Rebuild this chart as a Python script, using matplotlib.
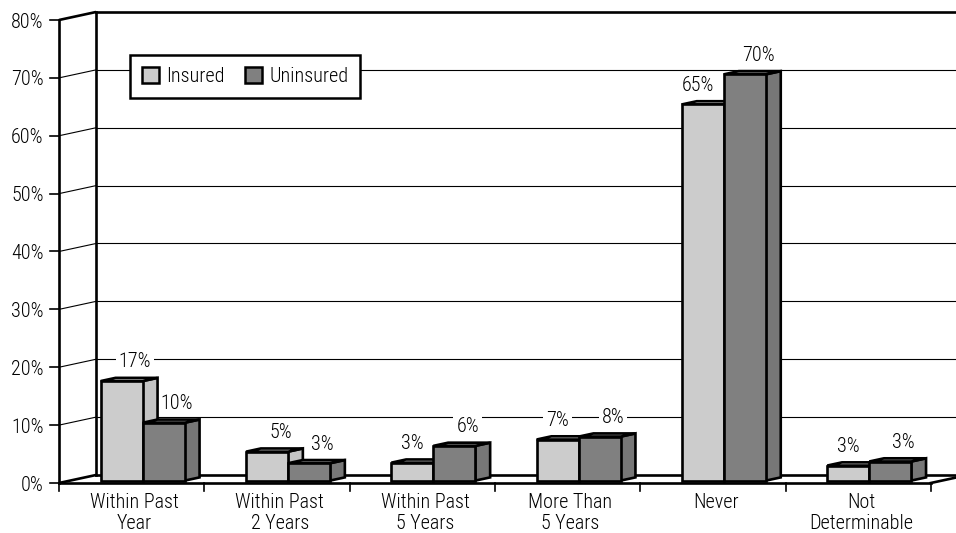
import matplotlib
matplotlib.use("Agg")
import matplotlib.pyplot as plt
from matplotlib.patches import Polygon, Patch
from matplotlib import font_manager

# ---------------- data ----------------
categories = ["Within Past\nYear", "Within Past\n2 Years", "Within Past\n5 Years",
              "More Than\n5 Years", "Never", "Not\nDeterminable"]
series_names = ["Insured", "Uninsured"]
insured = [17.2, 5.0, 3.1, 7.1, 65.0, 2.6]
uninsured = [10.0, 3.0, 6.0, 7.6, 70.2, 3.3]
y_ticks = [0, 10, 20, 30, 40, 50, 60, 70, 80]
y_tick_labels = ["0%", "10%", "20%", "30%", "40%", "50%", "60%", "70%", "80%"]

# ---------------- style ----------------
names = {f.name for f in font_manager.fontManager.ttflist}
fam = "DejaVu Sans"
for cand in ("Roboto Condensed", "Archivo Narrow", "PT Sans Narrow", "Liberation Sans Narrow"):
    if cand in names:
        fam = cand
        break
plt.rcParams["font.family"] = [fam, "DejaVu Sans"]
plt.rcParams["font.weight"] = "light"
FS = 14.5

face_cols = ["#CCCCCC", "#808080"]
top_cols = ["#DADADA", "#8A8A8A"]
side_cols = ["#C4C4C4", "#777777"]

W, H = 956, 533
px_per_cat = 145.3
px_per_pct = 5.7875
x_left_px = 59
y_zero_px = 483
DX = 37 / px_per_cat          # full depth offset (category units)
DY = 8 / px_per_pct           # full depth offset (percent units)
z0, z1 = 0.30, 0.70           # bar depth range
bw = 42 / px_per_cat          # bar width
THICK = 1.9
THIN = 0.8

fig = plt.figure(figsize=(W / 100, H / 100), dpi=100)
ax = fig.add_axes([0, 0, 1, 1])
n = len(categories)
x0 = -0.5
x_end = n - 0.5
xmin = x0 - x_left_px / px_per_cat
xmax = x0 + (W - x_left_px) / px_per_cat
ax.set_xlim(xmin, xmax)
ax.set_ylim(-(H - y_zero_px) / px_per_pct, y_zero_px / px_per_pct)
ax.axis("off")

ymax = y_ticks[-1]
# left wall and back wall gridlines
for t, lab in zip(y_ticks, y_tick_labels):
    lw = THICK if t in (0, ymax) else THIN
    ax.plot([x0, x0 + DX], [t, t + DY], color="black", lw=lw, zorder=1, solid_capstyle="butt")
    if t != 0:
        ax.plot([x0 + DX, xmax + 1], [t + DY, t + DY], color="black",
                lw=THICK if t == ymax else THIN, zorder=1)
    ax.plot([x0 - 9 / px_per_cat, x0], [t, t], color="black", lw=1.2, zorder=1)
    ax.annotate(lab, (x0, t), xytext=(-11, -1.5), textcoords="offset points",
                ha="right", va="center", fontsize=FS)

# verticals
ax.plot([x0, x0], [0, ymax], color="black", lw=THICK, zorder=2)
ax.plot([x0 + DX, x0 + DX], [DY, ymax + DY], color="black", lw=THICK, zorder=1)

# floor
ax.plot([x0, x_end], [0, 0], color="black", lw=THICK, zorder=1)
ax.plot([x0 + DX, x_end + DX], [DY, DY], color="black", lw=THICK, zorder=1)
ax.plot([x_end, x_end + DX], [0, DY], color="black", lw=THICK, zorder=1)

# category ticks
for k in range(n + 1):
    ax.plot([x0 + k, x0 + k], [0, -8 / px_per_pct], color="black", lw=1.2, zorder=1)

# category labels
for i, c in enumerate(categories):
    ax.annotate(c, (i, 0), xytext=(2, -7), textcoords="offset points", ha="center",
                va="top", fontsize=FS, linespacing=1.12)

# bars
dxb = (z1 - z0) * DX
dyb = (z1 - z0) * DY
z = 3
adjust = []
for i in range(n):
    for j, vals in enumerate([insured, uninsured]):
        v = vals[i]
        xl = i - bw + j * bw + z0 * DX
        yb = z0 * DY
        yt = yb + v
        front = [(xl, yb), (xl + bw, yb), (xl + bw, yt), (xl, yt)]
        top = [(xl, yt), (xl + bw, yt), (xl + bw + dxb, yt + dyb), (xl + dxb, yt + dyb)]
        side = [(xl + bw, yb), (xl + bw + dxb, yb + dyb), (xl + bw + dxb, yt + dyb), (xl + bw, yt)]
        for poly, col in ((side, side_cols[j]), (top, top_cols[j]), (front, face_cols[j])):
            ax.add_patch(Polygon(poly, closed=True, facecolor=col, edgecolor="black",
                                 lw=THICK, joinstyle="miter", zorder=z))
            z += 1
        blocked = (j == 0 and uninsured[i] > v)
        lx = xl + bw / 2 + (0.03 * DX if blocked else 0.9 * dxb)
        ann = ax.annotate(f"{round(v):d}%", (lx, yt + dyb), xytext=(0, 11.5),
                          textcoords="offset points", ha="center", va="center",
                          fontsize=FS, zorder=2,
                          bbox=dict(boxstyle="square,pad=0.15", fc="white", ec="none"))
        if blocked:
            adjust.append((ann, xl + bw))

# keep labels of shorter bars clear of the taller neighbour
fig.canvas.draw()
rend = fig.canvas.get_renderer()
for ann, next_left in adjust:
    bb = ann.get_window_extent(rend)
    nl_px = ax.transData.transform((next_left, 0))[0]
    limit = nl_px - 10
    if bb.x1 > limit:
        ann.xyann = ((limit - bb.x1) * 72 / fig.dpi, 11.5)

# legend
handles = [Patch(facecolor=face_cols[j], edgecolor="black", linewidth=1.8) for j in range(2)]
leg = ax.legend(handles, series_names, loc="upper left",
                bbox_to_anchor=(130 / W, 1 - 55 / H), bbox_transform=fig.transFigure,
                ncol=2, frameon=True, fancybox=False, edgecolor="black", framealpha=1,
                borderpad=0.6, handlelength=0.85, handleheight=0.85, handletextpad=0.35,
                columnspacing=1.0, borderaxespad=0, fontsize=FS)
leg.get_frame().set_linewidth(1.8)
leg.set_zorder(150)

fig.savefig("out.png", dpi=100)
